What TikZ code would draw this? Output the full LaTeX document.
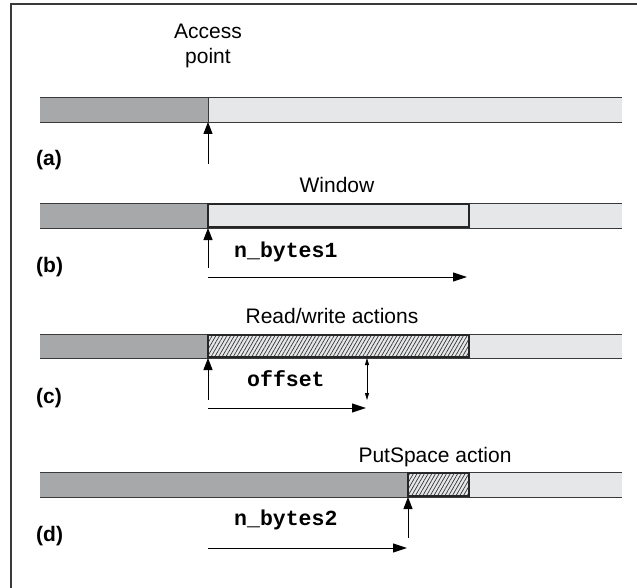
\documentclass[tikz,border=0pt]{standalone}
\usepackage{fontspec}
\setmainfont{Liberation Sans}
\setmonofont{Liberation Mono}
\usetikzlibrary{arrows.meta,patterns.meta}
\definecolor{usedgray}{HTML}{A7A8AA}
\definecolor{freegray}{HTML}{E6E7E8}
\definecolor{edgegray}{HTML}{3A3A3A}
\tikzset{
  x=1pt, y=-1pt,
  freepart/.style={fill=freegray, draw=none},
  usedpart/.style={fill=usedgray, draw=none},
  rim/.style={draw=edgegray, line width=0.9pt},
  winbox/.style={draw=black!85, line width=2pt},
  hatched/.style={fill=freegray, pattern={Lines[angle=60,distance=3.2pt,line width=0.7pt]}, pattern color=black!80},
  pointer/.style={line width=1pt, -{Triangle[length=12pt,width=9pt]}},
  span/.style={line width=1pt, -{Triangle[length=14pt,width=9pt]}},
  gap/.style={line width=0.8pt, {Triangle[length=7pt,width=4pt]}-{Triangle[length=7pt,width=4pt]}},
  caption/.style={font=\fontsize{21}{25}\selectfont, align=center, inner sep=0pt},
  tag/.style={font=\fontsize{21}{24}\selectfont\bfseries, inner sep=0pt, anchor=base west},
  code/.style={font=\fontsize{21.5}{24}\selectfont\ttfamily\bfseries, inner sep=0pt, anchor=base west},
}
\newcommand{\drawbar}[3]{% top y, bottom y, used-part end x
  \fill[freepart] (40,#1) rectangle (622,#2);
  \fill[usedpart] (40,#1) rectangle (#3,#2);
  \draw[rim] (40,#1) -- (622,#1) (40,#2) -- (622,#2);
}
\begin{document}
\begin{tikzpicture}
\useasboundingbox (0,0) rectangle (637,588);
% outer frame (open to the right and bottom)
\draw[edgegray, line width=1.4pt] (11,600) -- (11,4) -- (650,4);

% ---- (a) access point ----
\drawbar{97}{122}{208}
\draw[rim] (208,97) -- (208,122);
\node[caption, anchor=base] (acc) at (208,64) {Access\\point};
\node[tag] (ta) at (36,166) {(a)};
\coordinate (a0) at (208,164);
\coordinate (a1) at (208,122);
\draw[pointer] (a0) -- (a1);

% ---- (b) window ----
\drawbar{203}{228}{208}
\draw[winbox] (208,204) rectangle (469,227);
\node[caption, anchor=base] (win) at (337,193) {Window};
\node[tag] (tb) at (36,272) {(b)};
\coordinate (b0) at (208,268);
\coordinate (b1) at (208,228);
\draw[pointer] (b0) -- (b1);
\node[code] (nb1) at (234,257) {n\_bytes1};
\coordinate (b2) at (208,277);
\coordinate (b3) at (467,277);
\draw[span] (b2) -- (b3);

% ---- (c) read/write actions ----
\drawbar{334}{358}{208}
\fill[hatched] (208,335) rectangle (469,357);
\draw[winbox] (208,335) rectangle (469,357);
\node[caption, anchor=base] (rw) at (332,323) {Read/write actions};
\node[tag] (tc) at (36,403) {(c)};
\coordinate (c0) at (208,400);
\coordinate (c1) at (208,358);
\draw[pointer] (c0) -- (c1);
\node[code] (off) at (247,386) {offset};
\coordinate (c2) at (208,408);
\coordinate (c3) at (366,408);
\draw[span] (c2) -- (c3);
\coordinate (c4) at (367,358);
\coordinate (c5) at (367,400);
\draw[gap] (c4) -- (c5);

% ---- (d) PutSpace action ----
\drawbar{472}{497}{408}
\fill[hatched] (408,473) rectangle (469,496);
\draw[winbox] (408,473) rectangle (469,496);
\node[caption, anchor=base] (ps) at (435,462) {PutSpace action};
\node[tag] (td) at (36,541) {(d)};
\coordinate (d0) at (408,538);
\coordinate (d1) at (408,497);
\draw[pointer] (d0) -- (d1);
\node[code] (nb2) at (234,525) {n\_bytes2};
\coordinate (d2) at (208,548);
\coordinate (d3) at (407,548);
\draw[span] (d2) -- (d3);
\end{tikzpicture}
\end{document}
